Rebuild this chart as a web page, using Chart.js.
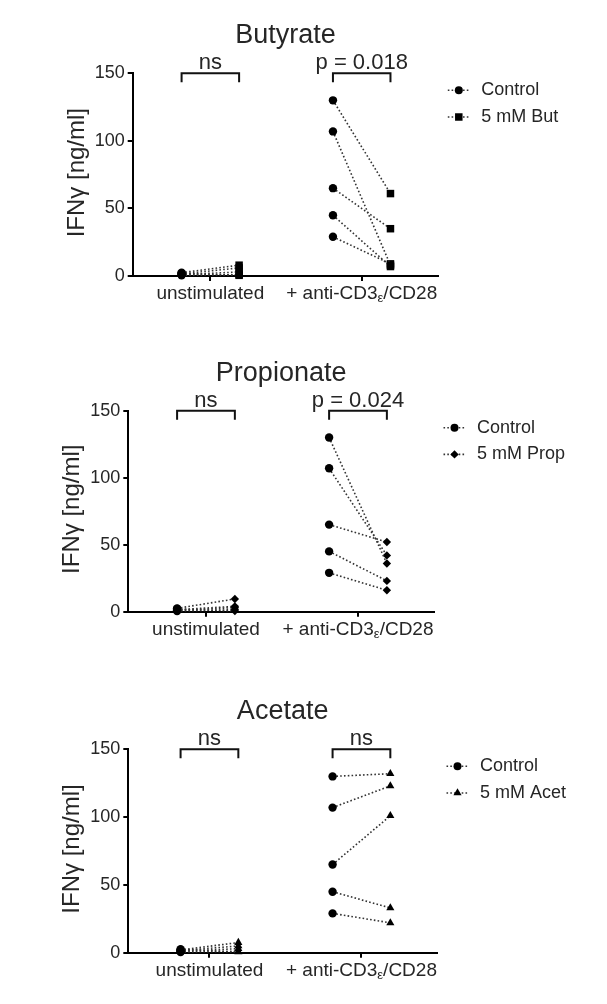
<!DOCTYPE html>
<html><head><meta charset="utf-8">
<script src="https://cdn.jsdelivr.net/npm/chart.js@4.4.1/dist/chart.umd.min.js"></script>
<style>
html,body{margin:0;padding:0;background:#fff;width:607px;height:1004px;overflow:hidden;}
canvas{position:absolute;left:0;}
</style></head><body>
<canvas id="c1" width="607" height="335" style="top:0px"></canvas>
<canvas id="c2" width="607" height="335" style="top:335px"></canvas>
<canvas id="c3" width="607" height="334" style="top:670px"></canvas>
<script>
// ---------- data ----------
const categories = ['unstimulated', '+ anti-CD3ε/CD28'];
const yTicks = [0, 50, 100, 150];
const panelTitles = ['Butyrate', 'Propionate', 'Acetate'];
const controlLabel = 'Control';
const treatmentLabels = ['5 mM But', '5 mM Prop', '5 mM Acet'];
const significance = [['ns', 'p = 0.018'], ['ns', 'p = 0.024'], ['ns', 'ns']];
const yTitle = 'IFNγ [ng/ml]';

const butyrateControlUnstim = [2.5, 1.5, 1.0, 0.5, 2.0];
const butyrateTreatedUnstim = [8, 6, 3, 1, 0.5];
const butyrateControlStim = [130, 107, 65, 45, 29];
const butyrateTreatedStim = [61, 8, 35, 7, 9];

const propionateControlUnstim = [2.5, 1.5, 1.0, 0.5, 2.0];
const propionateTreatedUnstim = [9.5, 4, 3, 1.5, 0.5];
const propionateControlStim = [130, 107, 65, 45, 29];
const propionateTreatedStim = [36, 42, 52, 23, 16];

const acetateControlUnstim = [2.0, 1.5, 1.0, 0.5, 2.5];
const acetateTreatedUnstim = [7.5, 5, 3, 1, 0.5];
const acetateControlStim = [130, 107, 65, 45, 29];
const acetateTreatedStim = [132, 123, 101, 33, 22];

// ---------- layout / style ----------
const FONT = '"Liberation Sans", Arial, Helvetica, sans-serif';
const TEXT = '#262626';
const OFF = 0.19;
const panels = [
  {id:'c1', h:335, left:132.7, right:438.3, top:73.3, bottom:276, xMin:0.487, xMax:2.506,
   ctrl:[butyrateControlUnstim, butyrateControlStim], trt:[butyrateTreatedUnstim, butyrateTreatedStim],
   style:'rect', r:5.3},
  {id:'c2', h:335, left:128.3, right:434, top:75.7, bottom:276.7, xMin:0.489, xMax:2.5,
   ctrl:[propionateControlUnstim, propionateControlStim], trt:[propionateTreatedUnstim, propionateTreatedStim],
   style:'rectRot', r:4.2},
  {id:'c3', h:334, left:128.3, right:437, top:79.3, bottom:282.7, xMin:0.466, xMax:2.497,
   ctrl:[acetateControlUnstim, acetateControlStim], trt:[acetateTreatedUnstim, acetateTreatedStim],
   style:'triangle', r:4.7}
];

function drawMarker(ctx, style, r, x, y) {
  ctx.beginPath();
  if (style === 'circle') {
    ctx.arc(x, y, r, 0, Math.PI * 2);
  } else if (style === 'rect') {
    const s = Math.SQRT1_2 * r;
    ctx.rect(x - s, y - s, 2 * s, 2 * s);
  } else if (style === 'rectRot') {
    ctx.moveTo(x - r, y); ctx.lineTo(x, y - r); ctx.lineTo(x + r, y); ctx.lineTo(x, y + r); ctx.closePath();
  } else if (style === 'triangle') {
    for (let k = 0; k < 3; k++) {
      const a = k * 2 * Math.PI / 3;
      const px = x + Math.sin(a) * r, py = y - Math.cos(a) * r;
      if (k === 0) ctx.moveTo(px, py); else ctx.lineTo(px, py);
    }
    ctx.closePath();
  }
  ctx.fill();
}

function makeAnnotations(pi) {
  const panel = panels[pi];
  return {
    id: 'annot' + pi,
    afterDraw(chart) {
      const ctx = chart.ctx, xs = chart.scales.x, ys = chart.scales.y, ca = chart.chartArea;
      ctx.save();
      ctx.fillStyle = TEXT;
      ctx.textBaseline = 'alphabetic';
      // title
      ctx.font = '27px ' + FONT;
      ctx.textAlign = 'center';
      ctx.fillText(panelTitles[pi], (ca.left + ca.right) / 2, ca.top - 30);
      // y title
      ctx.save();
      ctx.translate(ca.left - 49, (ca.top + ca.bottom) / 2 - 2);
      ctx.rotate(-Math.PI / 2);
      ctx.font = '24px ' + FONT;
      ctx.textAlign = 'center';
      ctx.fillText(yTitle, 0, 0);
      ctx.restore();
      // brackets, significance and category labels
      categories.forEach((cat, i) => {
        const x1 = xs.getPixelForValue(i + 1 - OFF);
        const x2 = xs.getPixelForValue(i + 1 + OFF);
        const yb = ys.getPixelForValue(yTicks[yTicks.length - 1]);
        ctx.beginPath();
        ctx.moveTo(x1, yb + 9); ctx.lineTo(x1, yb); ctx.lineTo(x2, yb); ctx.lineTo(x2, yb + 9);
        ctx.lineWidth = 2; ctx.strokeStyle = '#111'; ctx.setLineDash([]);
        ctx.stroke();
        ctx.font = '22px ' + FONT;
        ctx.textAlign = 'center';
        ctx.fillText(significance[pi][i], (x1 + x2) / 2, yb - 4);
        // category label (with subscript epsilon)
        const xc = xs.getPixelForValue(i + 1);
        const base = ca.bottom + 23;
        const parts = cat.split('ε');
        if (parts.length === 2) {
          ctx.font = '19px ' + FONT;
          const w1 = ctx.measureText(parts[0]).width;
          const w3 = ctx.measureText(parts[1]).width;
          ctx.font = '13px ' + FONT;
          const w2 = ctx.measureText('ε').width;
          let x = xc - (w1 + w2 + w3) / 2;
          ctx.textAlign = 'left';
          ctx.font = '19px ' + FONT;
          ctx.fillText(parts[0], x, base); x += w1;
          ctx.font = '13px ' + FONT;
          ctx.fillText('ε', x, base + 3); x += w2;
          ctx.font = '19px ' + FONT;
          ctx.fillText(parts[1], x, base);
        } else {
          ctx.font = '19px ' + FONT;
          ctx.textAlign = 'center';
          ctx.fillText(cat, xc, base);
        }
      });
      // legend
      const items = [[controlLabel, 'circle', 4], [treatmentLabels[pi], panel.style, panel.r]];
      items.forEach((it, k) => {
        const y = ca.top + 17 + k * 26.7;
        const mx = ca.right + 20.5;
        ctx.beginPath();
        ctx.setLineDash([1.6, 2.2]);
        ctx.lineWidth = 1.6; ctx.strokeStyle = '#333';
        ctx.moveTo(mx - 11, y); ctx.lineTo(mx + 10, y); ctx.stroke();
        ctx.setLineDash([]);
        ctx.fillStyle = '#000';
        drawMarker(ctx, it[1], it[2], mx, y);
        ctx.fillStyle = TEXT;
        ctx.font = '18px ' + FONT;
        ctx.textAlign = 'left';
        ctx.textBaseline = 'middle';
        ctx.fillText(it[0], mx + 22.5, y);
        ctx.textBaseline = 'alphabetic';
      });
      ctx.restore();
    }
  };
}

panels.forEach((panel, pi) => {
  const datasets = [];
  categories.forEach((cat, ci) => {
    panel.ctrl[ci].forEach((v, i) => {
      datasets.push({
        data: [{x: ci + 1 - OFF, y: v}, {x: ci + 1 + OFF, y: panel.trt[ci][i]}],
        showLine: true,
        borderColor: '#333',
        borderWidth: 1.6,
        borderDash: [1.6, 2.2],
        pointStyle: ['circle', panel.style],
        pointRadius: [4.2, panel.r],
        pointHoverRadius: [4.2, panel.r],
        pointBackgroundColor: '#000',
        pointBorderColor: '#000',
        pointBorderWidth: 0,
        clip: false
      });
    });
  });
  new Chart(document.getElementById(panel.id), {
    type: 'scatter',
    data: {datasets},
    plugins: [makeAnnotations(pi)],
    options: {
      responsive: false,
      animation: false,
      events: [],
      layout: {padding: {top: panel.top, left: 0, right: 607 - panel.right, bottom: 0}},
      plugins: {legend: {display: false}, tooltip: {enabled: false}, title: {display: false}},
      scales: {
        x: {
          type: 'linear', min: panel.xMin, max: panel.xMax,
          afterBuildTicks: s => { s.ticks = categories.map((c, i) => ({value: i + 1})); },
          afterFit: s => { s.height = panel.h - panel.bottom; },
          ticks: {display: false},
          grid: {drawOnChartArea: false, drawTicks: true, tickLength: 5, color: '#000', lineWidth: 2},
          border: {display: true, color: '#000', width: 2}
        },
        y: {
          type: 'linear', min: yTicks[0], max: yTicks[yTicks.length - 1],
          afterBuildTicks: s => { s.ticks = yTicks.map(v => ({value: v})); },
          afterFit: s => { s.width = panel.left; },
          ticks: {color: TEXT, font: {family: FONT, size: 18}, padding: 3},
          grid: {drawOnChartArea: false, drawTicks: true, tickLength: 5, color: '#000', lineWidth: 2},
          border: {display: true, color: '#000', width: 2}
        }
      }
    }
  });
});
</script>
</body></html>
